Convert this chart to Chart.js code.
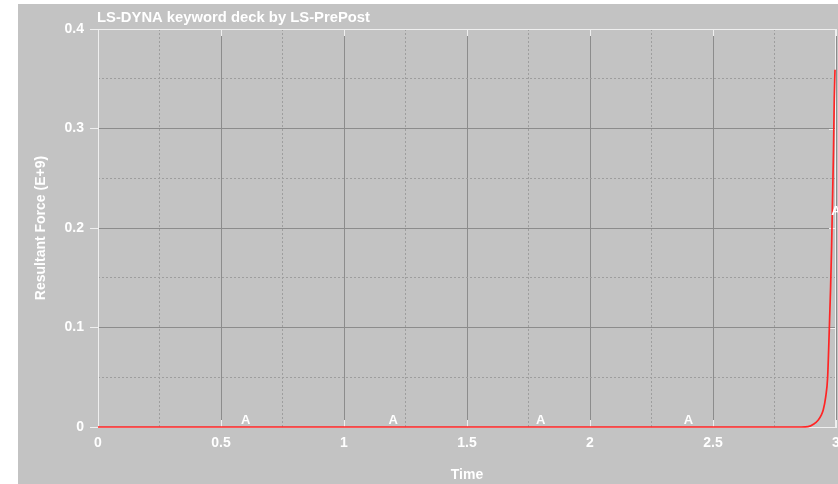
<!DOCTYPE html>
<html>
<head>
<meta charset="utf-8">
<title>LS-DYNA keyword deck by LS-PrePost</title>
<script src="https://cdn.jsdelivr.net/npm/chart.js@4/dist/chart.umd.min.js"></script>
<style>
	html, body { margin: 0; padding: 0; background: #ffffff; }
	canvas { display: block; }
</style>
</head>
<body>
<canvas id="chart" width="838" height="484"></canvas>
<script>
// curve (force in E+9)
const timeValues = [0, 2.86, 2.886, 2.91, 2.928, 2.94, 2.948, 2.958, 2.966, 2.973, 2.978, 2.982, 2.986, 2.99, 2.993, 2.996];
const forceValues = [0, 0, 0.0003, 0.003, 0.007, 0.012, 0.017, 0.03, 0.05, 0.1, 0.14, 0.18, 0.23, 0.28, 0.33, 0.359];

// curve label markers ("A")
const markerTimes = [0.6, 1.2, 1.8, 2.4, 3.0];
const markerForces = [0, 0, 0, 0, 0.21];
const markerText = "A";

const xTicks = ["0", "0.5", "1", "1.5", "2", "2.5", "3"];
const yTicks = ["0", "0.1", "0.2", "0.3", "0.4"];

const chartTitle = "LS-DYNA keyword deck by LS-PrePost";
const xTitle = "Time";
const yTitle = "Resultant Force (E+9)";

const BG = "#c3c3c3";
const FRAME = "#efefef";
const MAJOR = "#8c8c8c";
const MINOR = "#9e9e9e";
const FONT = "'Liberation Sans', Arial, sans-serif";

Chart.defaults.font.family = FONT;

function isMultiple(v, step) {
	const r = v / step;
	return Math.abs(r - Math.round(r)) < 1e-6;
}

// gray panel and the title
const backdrop = {
	id: "backdrop",
	beforeDraw: function (chart) {
		const ctx = chart.ctx;
		ctx.save();
		ctx.fillStyle = "#ffffff";
		ctx.fillRect(0, 0, chart.width, chart.height);
		ctx.fillStyle = BG;
		ctx.fillRect(18, 4, chart.width - 18, chart.height - 4);
		ctx.restore();
	},
	afterDraw: function (chart) {
		const ctx = chart.ctx;
		ctx.save();
		ctx.fillStyle = "#ffffff";
		ctx.font = "bold 14.8px " + FONT;
		ctx.textAlign = "left";
		ctx.textBaseline = "alphabetic";
		ctx.fillText(chartTitle, chart.chartArea.left - 1, 22);
		ctx.restore();
	}
};

// white frame with inward ticks on top, bottom and right
const frame = {
	id: "frame",
	beforeDatasetsDraw: function (chart) {
		const ctx = chart.ctx;
		const a = chart.chartArea;
		const xs = chart.scales.x;
		const ys = chart.scales.y;
		ctx.save();
		ctx.strokeStyle = FRAME;
		ctx.lineWidth = 1;
		ctx.beginPath();
		ctx.moveTo(a.left, a.top + 0.5);
		ctx.lineTo(a.right, a.top + 0.5);
		ctx.moveTo(a.right - 0.5, a.top);
		ctx.lineTo(a.right - 0.5, a.bottom);
		xs.ticks.forEach(t => {
			const px = Math.round(xs.getPixelForValue(t.value)) + 0.5;
			ctx.moveTo(px, a.top);
			ctx.lineTo(px, a.top + 7);
			ctx.moveTo(px, a.bottom);
			ctx.lineTo(px, a.bottom - 7);
		});
		ys.ticks.forEach(t => {
			const py = Math.round(ys.getPixelForValue(t.value)) + 0.5;
			ctx.moveTo(a.right, py);
			ctx.lineTo(a.right - 7, py);
		});
		ctx.stroke();
		ctx.restore();
	},
	afterDatasetsDraw: function (chart) {
		const ctx = chart.ctx;
		const xs = chart.scales.x;
		const ys = chart.scales.y;
		ctx.save();
		ctx.fillStyle = "#ffffff";
		ctx.font = "bold 13px " + FONT;
		ctx.textAlign = "center";
		ctx.textBaseline = "bottom";
		markerTimes.forEach((t, i) => {
			ctx.fillText(markerText, xs.getPixelForValue(t), ys.getPixelForValue(markerForces[i]) - 0.5);
		});
		ctx.restore();
	}
};

const points = timeValues.map((t, i) => ({ x: t, y: forceValues[i] }));

new Chart(document.getElementById("chart"), {
	type: "line",
	data: {
		datasets: [{
			data: points,
			borderColor: "#ff2424",
			borderWidth: 1.7,
			pointRadius: 0,
			cubicInterpolationMode: "monotone",
			fill: false,
			clip: 3
		}]
	},
	options: {
		responsive: false,
		animation: false,
		events: [],
		layout: { padding: { left: 18, top: 29, right: 2, bottom: 0 } },
		plugins: {
			legend: { display: false },
			title: { display: false },
			tooltip: { enabled: false }
		},
		scales: {
			x: {
				type: "linear",
				position: "bottom",
				min: 0,
				max: 3,
				afterFit: s => { s.height = 57; s.paddingLeft = 0; s.paddingRight = 0; },
				border: { display: true, color: FRAME, width: 1 },
				grid: { color: MAJOR, drawTicks: false },
				ticks: {
					stepSize: 0.5,
					autoSkip: false,
					maxRotation: 0,
					padding: 8,
					color: "#ffffff",
					font: { size: 14, weight: "bold" },
					callback: (v, i) => xTicks[i]
				},
				title: {
					display: true,
					text: xTitle,
					color: "#ffffff",
					font: { size: 14, weight: "bold" },
					padding: { top: 0, bottom: 0 }
				}
			},
			xMinor: {
				type: "linear",
				position: "bottom",
				min: 0,
				max: 3,
				afterFit: s => { s.height = 0; s.paddingLeft = 0; s.paddingRight = 0; },
				border: { display: false, dash: [2, 2] },
				grid: {
					drawTicks: false,
					color: c => isMultiple(c.tick.value, 0.5) ? "rgba(0,0,0,0)" : MINOR
				},
				ticks: { display: false, stepSize: 0.25 }
			},
			y: {
				type: "linear",
				position: "left",
				min: 0,
				max: 0.4,
				afterFit: s => { s.width = 80; },
				border: { display: true, color: FRAME, width: 1 },
				grid: { color: MAJOR, tickColor: FRAME, tickLength: 8 },
				ticks: {
					stepSize: 0.1,
					padding: 6,
					color: "#ffffff",
					font: { size: 14, weight: "bold" },
					callback: (v, i) => yTicks[i]
				},
				title: {
					display: true,
					text: yTitle,
					color: "#ffffff",
					font: { size: 14, weight: "bold" },
					padding: { top: 14.6, bottom: 0 }
				}
			},
			yMinor: {
				type: "linear",
				position: "left",
				min: 0,
				max: 0.4,
				afterFit: s => { s.width = 0; },
				border: { display: false, dash: [2, 2] },
				grid: {
					drawTicks: false,
					color: c => isMultiple(c.tick.value, 0.1) ? "rgba(0,0,0,0)" : MINOR
				},
				ticks: { display: false, stepSize: 0.05 }
			}
		}
	},
	plugins: [backdrop, frame]
});
</script>
</body>
</html>
